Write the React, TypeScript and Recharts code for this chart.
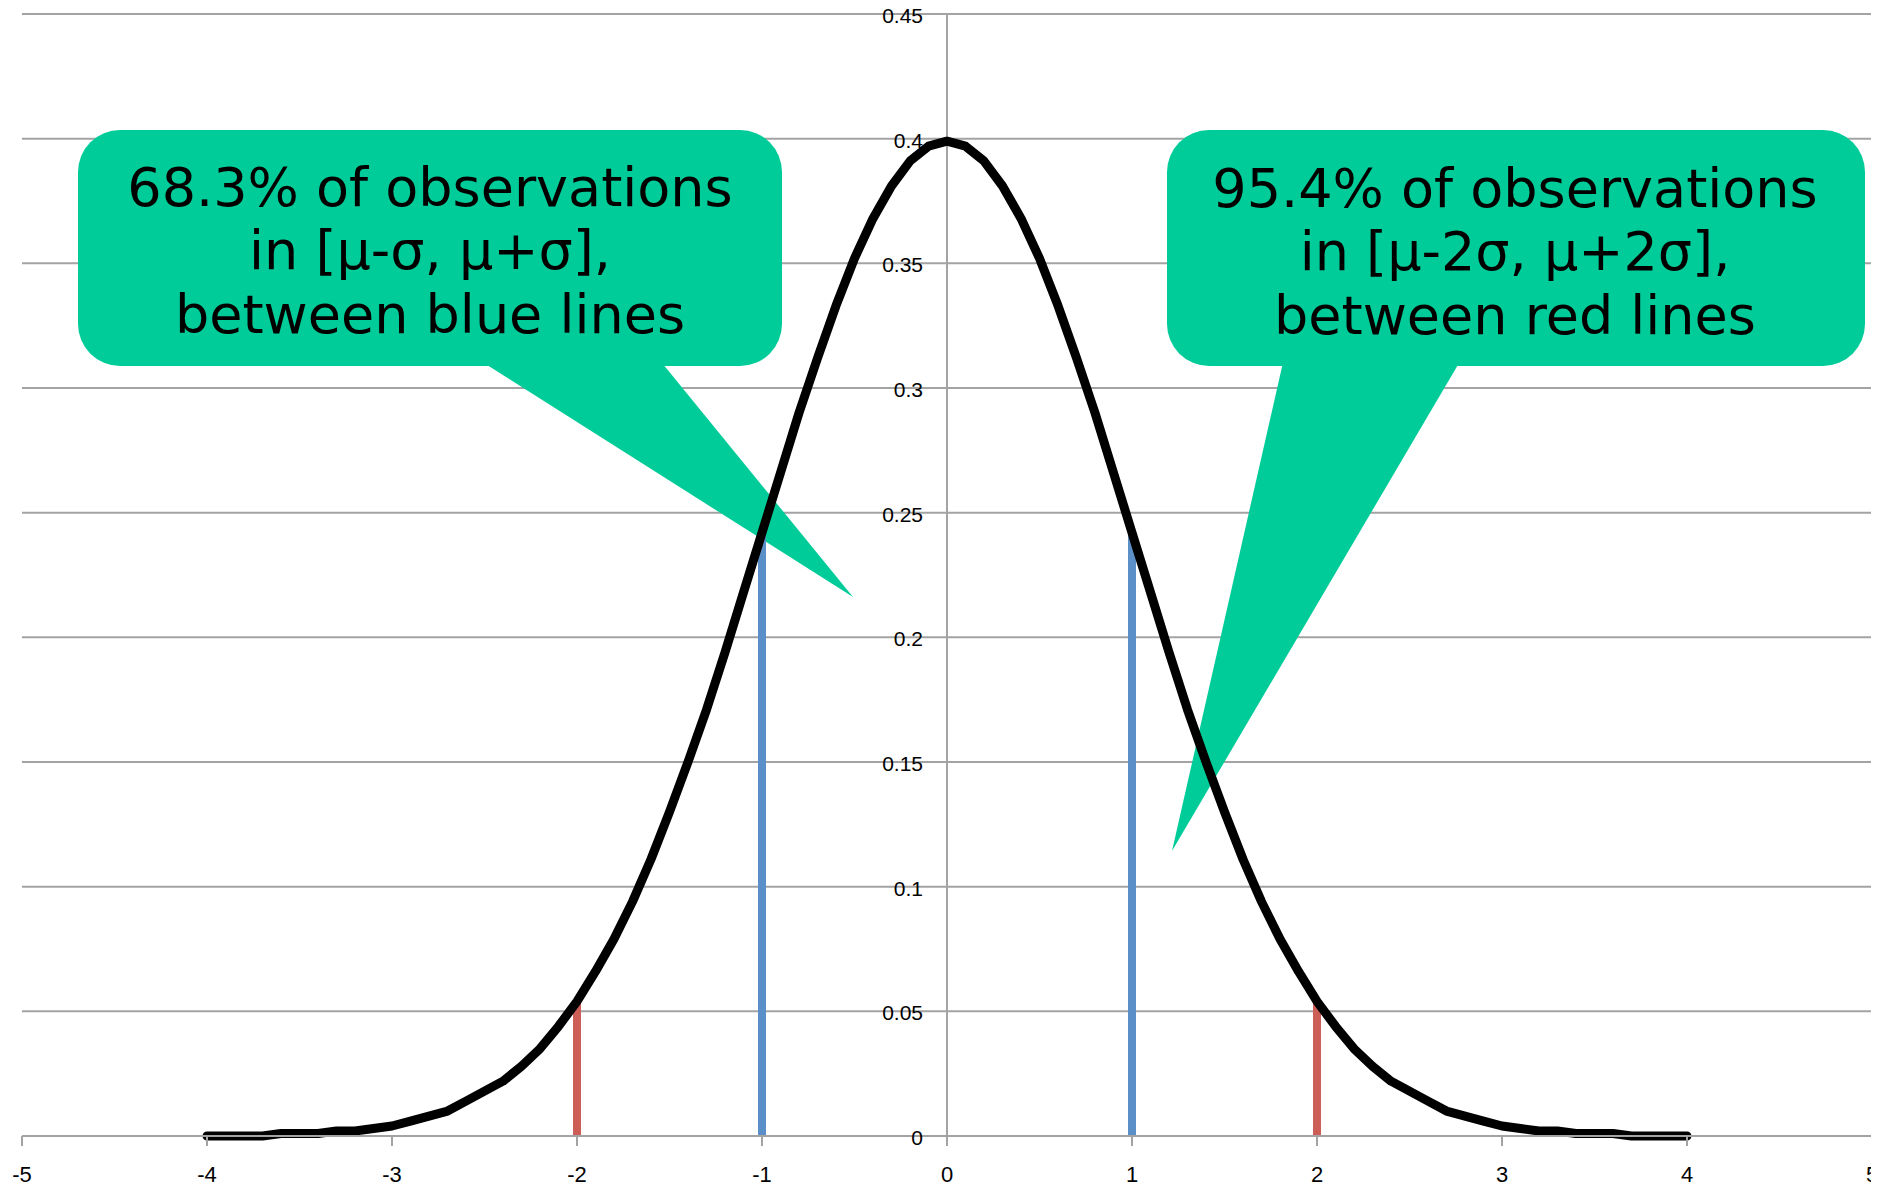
import { LineChart, Line, XAxis, YAxis, CartesianGrid, ReferenceLine } from "recharts"

// x positions of the plotted density points
const X_VALUES = [
  -4, -3.9, -3.8, -3.7, -3.6, -3.5, -3.4, -3.3, -3.2, -3.1,
  -3, -2.9, -2.8, -2.7, -2.6, -2.5, -2.4, -2.3, -2.2, -2.1,
  -2, -1.9, -1.8, -1.7, -1.6, -1.5, -1.4, -1.3, -1.2, -1.1,
  -1, -0.9, -0.8, -0.7, -0.6, -0.5, -0.4, -0.3, -0.2, -0.1,
  0,
  0.1, 0.2, 0.3, 0.4, 0.5, 0.6, 0.7, 0.8, 0.9, 1,
  1.1, 1.2, 1.3, 1.4, 1.5, 1.6, 1.7, 1.8, 1.9, 2,
  2.1, 2.2, 2.3, 2.4, 2.5, 2.6, 2.7, 2.8, 2.9, 3,
  3.1, 3.2, 3.3, 3.4, 3.5, 3.6, 3.7, 3.8, 3.9, 4,
]

// density
const DENSITY = [
  0, 0, 0, 0, 0.001, 0.001, 0.001, 0.002, 0.002, 0.003,
  0.004, 0.006, 0.008, 0.01, 0.014, 0.018, 0.022, 0.028, 0.035, 0.044,
  0.054, 0.066, 0.079, 0.094, 0.111, 0.13, 0.15, 0.171, 0.194, 0.218,
  0.242, 0.266, 0.29, 0.312, 0.333, 0.352, 0.368, 0.381, 0.391, 0.397,
  0.399,
  0.397, 0.391, 0.381, 0.368, 0.352, 0.333, 0.312, 0.29, 0.266, 0.242,
  0.218, 0.194, 0.171, 0.15, 0.13, 0.111, 0.094, 0.079, 0.066, 0.054,
  0.044, 0.035, 0.028, 0.022, 0.018, 0.014, 0.01, 0.008, 0.006, 0.004,
  0.003, 0.002, 0.002, 0.001, 0.001, 0.001, 0, 0, 0, 0,
]

// sigma markers: x and height
const BLUE_X = [-1, 1]
const BLUE_TOP = [0.242, 0.242]
const RED_X = [-2, 2]
const RED_TOP = [0.054, 0.054]

const X_TICKS = [-5, -4, -3, -2, -1, 0, 1, 2, 3, 4, 5]
const Y_TICKS = [0, 0.05, 0.1, 0.15, 0.2, 0.25, 0.3, 0.35, 0.4, 0.45]

const LEFT_NOTE = ["68.3% of observations", "in [μ-σ, μ+σ],", "between blue lines"]
const RIGHT_NOTE = ["95.4% of observations", "in [μ-2σ, μ+2σ],", "between red lines"]

const curveData = X_VALUES.map((x, i) => ({ x, y: DENSITY[i] }))
const segment = (x: number, top: number) => [
  { x, y: 0 },
  { x, y: top },
]

// svg sits at page (8, 0): the wrapper is pulled up over the body margin
const W = 1871
const H = 1196
const MARGIN = { top: 14, right: 7, left: 13, bottom: 0 }
// y axis is drawn through x = 0, in the middle of the plot
const AXIS_X = 14 + (W - 14 - MARGIN.right) / 2

const GRID = "#a3a3a3"
const GREEN = "#00cc99"
const BLUE = "#5b8fc8"
const RED = "#cd5d57"
const LABEL_FONT = "Liberation Sans, Arial, sans-serif"

function renderYTick(props: any) {
  const { y, payload } = props
  return (
    <text
      key={"yt" + payload.value}
      x={AXIS_X - 24}
      y={y}
      dy={9}
      textAnchor="end"
      fontFamily={LABEL_FONT}
      fontSize={21}
      fill="#000"
    >
      {String(payload.value)}
    </text>
  )
}

function Callout({
  box,
  pointer,
  cx,
  baselines,
  lines,
}: {
  box: { x: number; y: number; w: number; h: number }
  pointer: string
  cx: number
  baselines: number[]
  lines: string[]
}) {
  return (
    <g>
      <rect x={box.x} y={box.y} width={box.w} height={box.h} rx={42} ry={42} fill={GREEN} />
      <path d={pointer} fill={GREEN} />
      <text textAnchor="middle" fontFamily="DejaVu Sans, Verdana, sans-serif" fontSize={54} fill="#000">
        {lines.map((t, i) => (
          <tspan key={i} x={cx} y={baselines[i]}>
            {t}
          </tspan>
        ))}
      </text>
    </g>
  )
}

export default function App() {
  return (
    <div style={{ width: W, height: H, marginTop: -8 }}>
      <LineChart width={W} height={H} margin={MARGIN}>
        <CartesianGrid vertical={false} stroke={GRID} strokeWidth={2} />
        <XAxis
          type="number"
          dataKey="x"
          domain={[-5, 5]}
          ticks={X_TICKS}
          allowDataOverflow
          height={60}
          tickSize={10}
          tickMargin={20}
          axisLine={{ stroke: GRID, strokeWidth: 2 }}
          tickLine={{ stroke: GRID, strokeWidth: 2 }}
          tick={{ fill: "#000", fontSize: 22, fontFamily: LABEL_FONT }}
        />
        <YAxis
          type="number"
          domain={[0, 0.45]}
          ticks={Y_TICKS}
          width={1}
          interval={0}
          axisLine={false}
          tickLine={false}
          tick={renderYTick}
        />
        <ReferenceLine x={0} stroke={GRID} strokeWidth={2} />
        {BLUE_X.map((x, i) => (
          <Line
            key={"b" + i}
            data={segment(x, BLUE_TOP[i])}
            dataKey="y"
            stroke={BLUE}
            strokeWidth={8}
            dot={false}
            activeDot={false}
            isAnimationActive={false}
          />
        ))}
        {RED_X.map((x, i) => (
          <Line
            key={"r" + i}
            data={segment(x, RED_TOP[i])}
            dataKey="y"
            stroke={RED}
            strokeWidth={8}
            dot={false}
            activeDot={false}
            isAnimationActive={false}
          />
        ))}
        <Callout
          box={{ x: 70, y: 130, w: 704, h: 236 }}
          pointer="M 468 358 L 650 358 L 845 597 Z"
          cx={422}
          baselines={[206, 269, 333]}
          lines={LEFT_NOTE}
        />
        <Callout
          box={{ x: 1159, y: 130, w: 698, h: 236 }}
          pointer="M 1276 358 L 1454 358 L 1164 851 Z"
          cx={1507}
          baselines={[207, 270, 334]}
          lines={RIGHT_NOTE}
        />
        <Line
          data={curveData}
          dataKey="y"
          type="linear"
          stroke="#000"
          strokeWidth={9}
          strokeLinejoin="round"
          strokeLinecap="round"
          dot={false}
          activeDot={false}
          isAnimationActive={false}
        />
      </LineChart>
    </div>
  )
}
